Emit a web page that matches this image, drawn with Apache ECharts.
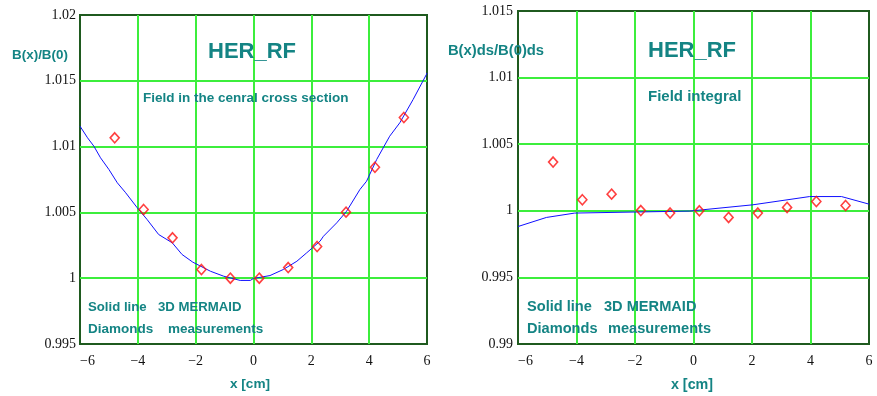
<!DOCTYPE html>
<html>
<head>
<meta charset="utf-8">
<script src="https://cdn.jsdelivr.net/npm/echarts@6/dist/echarts.min.js"></script>
<style>
  html, body { margin: 0; padding: 0; background: #fff; }
  #chart { width: 877px; height: 396px; }
</style>
</head>
<body>
<div id="chart"></div>
<script>
// left panel: field in the central cross section
var leftLineX = [-6, -5.74, -5.52, -5.29, -5.0, -4.71, -4.42, -4.02, -3.68, -3.28, -2.81, -2.47, -2.1, -1.49, -1.03, -0.46, -0.11, 0, 0.57, 1.03, 1.5, 1.84, 2.3, 2.42, 2.88, 3.22, 3.68, 3.91, 4.26, 4.71, 5.06, 5.52, 5.98, 6.0];
var leftLineY = [1.01155, 1.01067, 1.01003, 1.00915, 1.00826, 1.00725, 1.00649, 1.00535, 1.00446, 1.00332, 1.00269, 1.0018, 1.00122, 1.00053, 1.00015, 0.99983, 0.99983, 0.99998, 1.0002, 1.00066, 1.00129, 1.00193, 1.00281, 1.00319, 1.00421, 1.00509, 1.00674, 1.00737, 1.00902, 1.01079, 1.01181, 1.01358, 1.01548, 1.0156];
var measX = [-4.8, -3.8, -2.8, -1.8, -0.8, 0.2, 1.2, 2.2, 3.2, 4.2, 5.2];
var leftMeasY = [1.01067, 1.00522, 1.00307, 1.00066, 1.0, 1.0, 1.00081, 1.00241, 1.00502, 1.00843, 1.01221];

// right panel: field integral
var rightLineX = [-6, -5.03, -4.06, -0.13, 2.03, 3.97, 5.06, 6];
var rightLineY = [0.99882, 0.9995, 0.99983, 0.99998, 1.00045, 1.00107, 1.00107, 1.0005];
var rightMeasY = [1.00366, 1.00083, 1.00125, 1.00002, 0.99983, 1.0, 0.9995, 0.99983, 1.00025, 1.0007, 1.0004];

var TEAL = '#148484';
var GRIDC = '#3cee3c';

function pairs(xs, ys) {
  return xs.map(function (x, i) { return [x, ys[i]]; });
}

function fmtY(v) { return String(+v.toFixed(3)); }
function fmtX(v) { return v < 0 ? '\u2212' + (-v) : String(v); }

// edge lines are left to the dark grid border
var split = { showMinLine: false, showMaxLine: false, lineStyle: { color: GRIDC, width: 2 } };

function xAxisCfg(idx, fs) {
  return {
    type: 'value', gridIndex: idx, min: -6, max: 6, interval: 2,
    axisLine: { show: false }, axisTick: { show: false },
    splitLine: split,
    axisLabel: { formatter: fmtX, color: '#111', fontFamily: 'Liberation Serif', fontSize: fs, margin: 10, alignMinLabel: 'left' }
  };
}
function yAxisCfg(idx, min, max, fs, margin) {
  return {
    type: 'value', gridIndex: idx, min: min, max: max, interval: 0.005,
    axisLine: { show: false }, axisTick: { show: false },
    splitLine: split,
    axisLabel: { formatter: fmtY, color: '#111', fontFamily: 'Liberation Serif', fontSize: fs, margin: margin }
  };
}

function txt(x, y, s, size, align) {
  return {
    type: 'text', x: x, y: y, z: 100,
    style: { text: s, fill: TEAL, font: 'bold ' + size + 'px "Liberation Sans", Arial, sans-serif', align: align || 'left', verticalAlign: 'middle' }
  };
}

var chart = echarts.init(document.getElementById('chart'), null, { renderer: 'canvas' });

chart.setOption({
  backgroundColor: '#fff',
  animation: false,
  grid: [
    { left: 80, top: 15, width: 347, height: 329, show: true, borderColor: '#1f5a1f', borderWidth: 2, backgroundColor: 'transparent' },
    { left: 518, top: 11, width: 351, height: 333, show: true, borderColor: '#1f5a1f', borderWidth: 2, backgroundColor: 'transparent' }
  ],
  xAxis: [xAxisCfg(0, 14), xAxisCfg(1, 14)],
  yAxis: [yAxisCfg(0, 0.995, 1.02, 14, 4), yAxisCfg(1, 0.99, 1.015, 14, 5)],
  series: [
    { type: 'line', xAxisIndex: 0, yAxisIndex: 0, data: pairs(leftLineX, leftLineY), showSymbol: false, lineStyle: { color: '#1010ff', width: 1 }, z: 3 },
    { type: 'scatter', xAxisIndex: 0, yAxisIndex: 0, data: pairs(measX, leftMeasY), symbol: 'diamond', symbolSize: [9, 10], itemStyle: { color: 'transparent', borderColor: '#ff1010', borderWidth: 1.6 }, z: 4 },
    { type: 'line', xAxisIndex: 1, yAxisIndex: 1, data: pairs(rightLineX, rightLineY), showSymbol: false, lineStyle: { color: '#1010ff', width: 1 }, z: 3 },
    { type: 'scatter', xAxisIndex: 1, yAxisIndex: 1, data: pairs(measX, rightMeasY), symbol: 'diamond', symbolSize: [9, 10], itemStyle: { color: 'transparent', borderColor: '#ff1010', borderWidth: 1.6 }, z: 4 }
  ],
  graphic: [
    // left panel texts
    txt(40, 55, 'B(x)/B(0)', 13.4, 'center'),
    txt(252, 52, 'HER_RF', 22, 'center'),
    txt(143, 98, 'Field in the cenral cross section', 13.5),
    txt(88, 307, 'Solid line', 13.2),
    txt(158, 307, '3D MERMAID', 13.2),
    txt(88, 329, 'Diamonds', 13.5),
    txt(168, 329, 'measurements', 13.5),
    txt(250, 384, 'x [cm]', 13.6, 'center'),
    // right panel texts
    txt(496, 51, 'B(x)ds/B(0)ds', 14.8, 'center'),
    txt(692, 51, 'HER_RF', 22, 'center'),
    txt(648, 97, 'Field integral', 15),
    txt(527, 307, 'Solid line', 14.6),
    txt(604, 307, '3D MERMAID', 14.6),
    txt(527, 329, 'Diamonds', 14.6),
    txt(608, 329, 'measurements', 14.6),
    txt(692, 385, 'x [cm]', 14.3, 'center')
  ]
});
</script>
</body>
</html>
